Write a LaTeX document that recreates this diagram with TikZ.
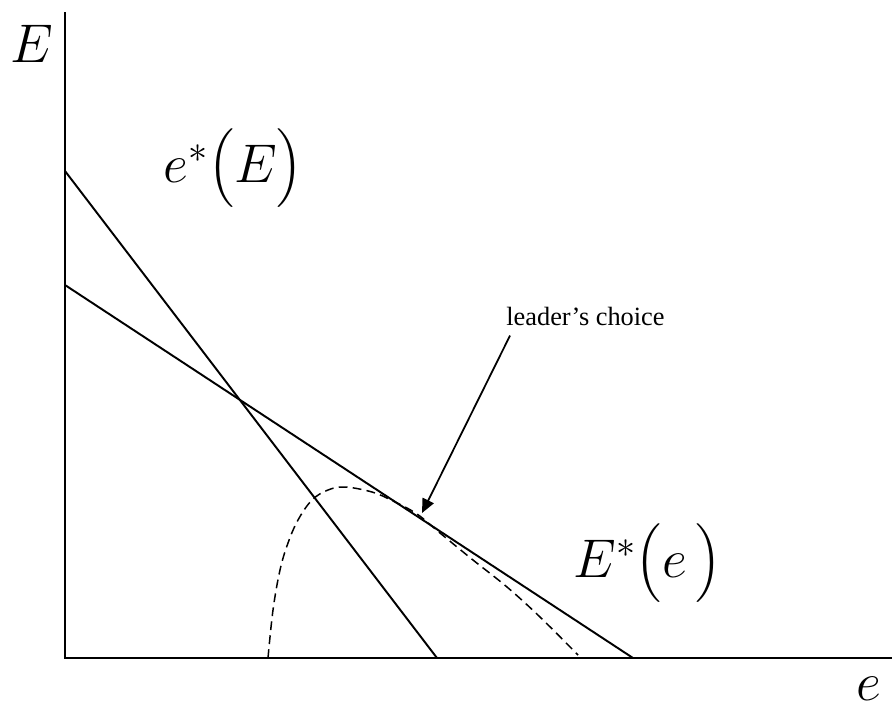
\RequirePackage{fix-cm}
\documentclass[tikz,border=0pt]{standalone}
\usepackage{exscale}
\usepackage{fontspec}
\newfontfamily\notefont[Ligatures=TeX]{Liberation Serif}
\usetikzlibrary{arrows.meta}

\begin{document}
\begin{tikzpicture}[
    x=0.02cm, y=-0.02cm,
    axis_line/.style={line width=1.1pt},
    resp_line/.style={line width=1.1pt},
    dash_curve/.style={line width=0.85pt, dash pattern=on 5pt off 3pt},
    pointer/.style={-{Triangle[length=8pt, width=7pt]}, line width=1pt},
    big_label/.style={inner sep=0pt, anchor=base west, font=\fontsize{31}{44}\selectfont},
    note/.style={inner sep=0pt, anchor=base west, font=\notefont\fontsize{15}{18}\selectfont}
]
\useasboundingbox (0,0) rectangle (892,711);

% Points
\coordinate (origin) at (65,658);
\coordinate (ytop) at (65,12);
\coordinate (xend) at (892,658);
\coordinate (eE_top) at (65,171);
\coordinate (eE_bot) at (437,658);
\coordinate (Ee_top) at (65,285);
\coordinate (Ee_bot) at (633,658);
\coordinate (tangent) at (422,513);

% Labels
\node (ylab) [big_label] at (10,62) {$E$};
\node (xlab) [big_label] at (856,700) {$e$};
\node (eElab) [big_label] at (163,182) {$e^{*}\bigl(E\bigr)$};
\node (Eelab) [big_label] at (573,577) {$E^{*}\bigl(e\,\bigr)$};
\node (choice) [note] at (506,325) {leader’s choice};

% Axes
\draw [axis_line] (ytop) -- (origin) -- (xend);

% Reaction lines
\draw [resp_line] (eE_top) -- (eE_bot);
\draw [resp_line] (Ee_top) -- (Ee_bot);

% Dashed curve
\draw [dash_curve] plot[smooth, tension=0.6] coordinates {(268,658) (273,610) (280,570) (288,543) (298,520) (312,500) (328,490) (345,487) (372,492) (393,501) (417,514) (440,533) (473,560) (507,587) (540,617) (578,655)};

% Arrow
\draw [pointer] ([shift={(4,10)}]choice.south west) -- (tangent);

\end{tikzpicture}
\end{document}
